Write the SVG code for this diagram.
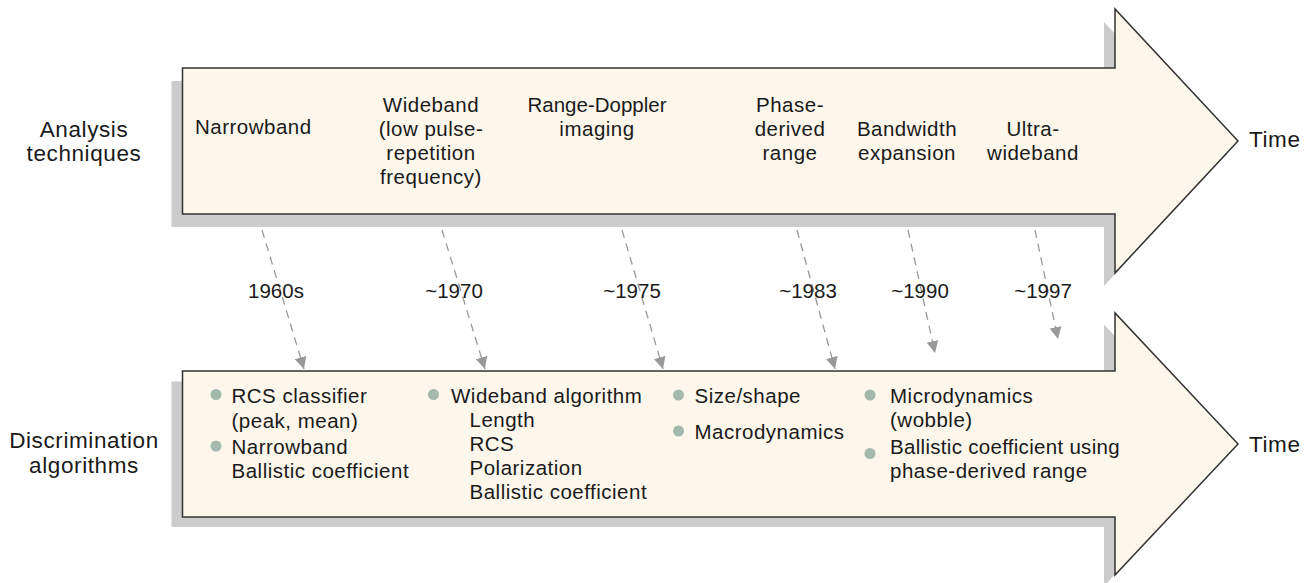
<svg xmlns="http://www.w3.org/2000/svg" width="1310" height="583" viewBox="0 0 1310 583">
<defs>
<style>
.shadow{fill:#CCCCCC;stroke:none}
.body{fill:#FDF6EB;stroke:#333333;stroke-width:1.5;stroke-linejoin:miter}
text{font-family:"Liberation Sans",Arial,sans-serif;font-size:20.5px;fill:#1a1a1a;letter-spacing:0.5px}
.c{text-anchor:middle}
.big{font-size:22.5px;letter-spacing:0.6px}
.bullet{fill:#A3B9AE}
.conn{stroke:#999999;stroke-width:1.3;stroke-dasharray:8,6;fill:none}
</style>
<marker id="ah" viewBox="0 0 12 12" refX="12" refY="6" markerWidth="12" markerHeight="12" markerUnits="userSpaceOnUse" orient="auto">
<path d="M0,0 L12,6 L0,12 z" fill="#999999"/>
</marker>
</defs>

<g id="analysis-arrow">
<polygon class="shadow" points="171.5,81 1104,81 1104,22 1227,154 1104,286 1104,227 171.5,227"/>
<polygon class="body" points="182.5,68 1115,68 1115,9 1238,141 1115,273 1115,214 182.5,214"/>
</g>
<g id="discrimination-arrow">
<polygon class="shadow" points="171.5,381.5 1104,381.5 1104,324.5 1227,455.5 1104,586 1104,527 171.5,527"/>
<polygon class="body" points="182.5,371 1115,371 1115,313 1238,444 1115,575 1115,517 182.5,517"/>
</g>

<g id="label-analysis">
<text class="c big" x="84" y="137">Analysis</text>
<text class="c big" x="84" y="161">techniques</text>
</g>
<g id="label-discrimination">
<text class="c big" x="84" y="448">Discrimination</text>
<text class="c big" x="84" y="473">algorithms</text>
</g>
<g id="time-top"><text class="big" x="1249" y="147">Time</text></g>
<g id="time-bottom"><text class="big" x="1249" y="452">Time</text></g>

<g id="tech-narrowband"><text x="195" y="134">Narrowband</text></g>
<g id="tech-wideband">
<text class="c" x="431" y="112">Wideband</text>
<text class="c" x="431" y="136">(low pulse-</text>
<text class="c" x="431" y="160">repetition</text>
<text class="c" x="431" y="184">frequency)</text>
</g>
<g id="tech-rangedoppler">
<text class="c" x="597" y="112" style="letter-spacing:0">Range-Doppler</text>
<text class="c" x="597" y="136">imaging</text>
</g>
<g id="tech-phase">
<text class="c" x="790" y="112">Phase-</text>
<text class="c" x="790" y="136">derived</text>
<text class="c" x="790" y="160">range</text>
</g>
<g id="tech-bandwidth">
<text class="c" x="907" y="136">Bandwidth</text>
<text class="c" x="907" y="160">expansion</text>
</g>
<g id="tech-ultra">
<text class="c" x="1033" y="136">Ultra-</text>
<text class="c" x="1033" y="160">wideband</text>
</g>

<g id="connectors">
<line class="conn" x1="262" y1="230" x2="304" y2="369" marker-end="url(#ah)"/>
<line class="conn" x1="442" y1="230" x2="485" y2="369" marker-end="url(#ah)"/>
<line class="conn" x1="622" y1="230" x2="663" y2="369" marker-end="url(#ah)"/>
<line class="conn" x1="797" y1="230" x2="835" y2="369" marker-end="url(#ah)"/>
<line class="conn" x1="908" y1="230" x2="935" y2="353" marker-end="url(#ah)"/>
<line class="conn" x1="1035" y1="230" x2="1058" y2="339" marker-end="url(#ah)"/>
</g>

<g id="dates">
<text class="c" x="276" y="298" style="letter-spacing:0">1960s</text>
<text class="c" x="454" y="298" style="letter-spacing:0">~1970</text>
<text class="c" x="632" y="298" style="letter-spacing:0">~1975</text>
<text class="c" x="808" y="298" style="letter-spacing:0">~1983</text>
<text class="c" x="920" y="298" style="letter-spacing:0">~1990</text>
<text class="c" x="1043" y="298" style="letter-spacing:0">~1997</text>
</g>

<g id="algo-col1">
<circle class="bullet" cx="216" cy="394.5" r="5.5"/>
<text x="231.5" y="403">RCS classifier</text>
<text x="231.5" y="428">(peak, mean)</text>
<circle class="bullet" cx="216" cy="446" r="5.5"/>
<text x="231.5" y="454">Narrowband</text>
<text x="231.5" y="478">Ballistic coefficient</text>
</g>
<g id="algo-col2">
<circle class="bullet" cx="433.5" cy="394.5" r="5.5"/>
<text x="451" y="403">Wideband algorithm</text>
<text x="469.5" y="427">Length</text>
<text x="469.5" y="451">RCS</text>
<text x="469.5" y="475">Polarization</text>
<text x="469.5" y="499">Ballistic coefficient</text>
</g>
<g id="algo-col3">
<circle class="bullet" cx="678.5" cy="395" r="5.5"/>
<text x="694.5" y="403">Size/shape</text>
<circle class="bullet" cx="678.5" cy="431" r="5.5"/>
<text x="694.5" y="439">Macrodynamics</text>
</g>
<g id="algo-col4">
<circle class="bullet" cx="870" cy="395" r="5.5"/>
<text x="890" y="403">Microdynamics</text>
<text x="890" y="427">(wobble)</text>
<circle class="bullet" cx="870" cy="453.5" r="5.5"/>
<text x="890" y="454" style="letter-spacing:0.3px">Ballistic coefficient using</text>
<text x="890" y="478">phase-derived range</text>
</g>
</svg>
